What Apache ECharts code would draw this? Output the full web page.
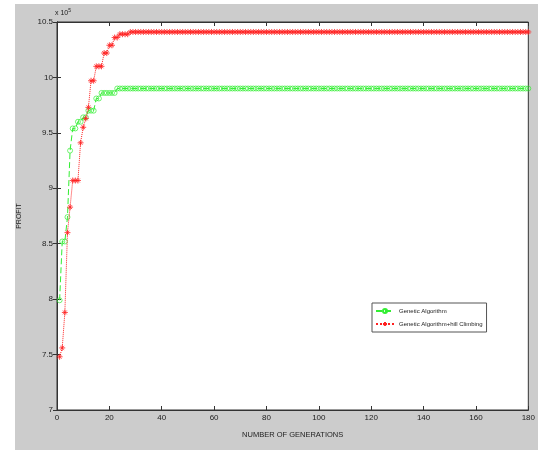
<!DOCTYPE html>
<html>
<head>
<meta charset="utf-8">
<script src="https://cdn.jsdelivr.net/npm/echarts@6/dist/echarts.min.js"></script>
<style>
  html, body { margin: 0; padding: 0; background: #fff; }
  #main { width: 538px; height: 450px; }
</style>
</head>
<body>
<div id="main"></div>
<script>
  // profit per generation (x 10^5), generations 1..180
  var gaProfit = [
    7.99, 8.52, 8.52, 8.74, 9.34, 9.54, 9.54, 9.60, 9.60, 9.64, 9.64, 9.70, 9.70, 9.70, 9.81, 9.81, 9.86, 9.86, 9.86, 9.86,
    9.86, 9.86, 9.9, 9.9, 9.9, 9.9, 9.9, 9.9, 9.9, 9.9, 9.9, 9.9, 9.9, 9.9, 9.9, 9.9, 9.9, 9.9, 9.9, 9.9,
    9.9, 9.9, 9.9, 9.9, 9.9, 9.9, 9.9, 9.9, 9.9, 9.9, 9.9, 9.9, 9.9, 9.9, 9.9, 9.9, 9.9, 9.9, 9.9, 9.9,
    9.9, 9.9, 9.9, 9.9, 9.9, 9.9, 9.9, 9.9, 9.9, 9.9, 9.9, 9.9, 9.9, 9.9, 9.9, 9.9, 9.9, 9.9, 9.9, 9.9,
    9.9, 9.9, 9.9, 9.9, 9.9, 9.9, 9.9, 9.9, 9.9, 9.9, 9.9, 9.9, 9.9, 9.9, 9.9, 9.9, 9.9, 9.9, 9.9, 9.9,
    9.9, 9.9, 9.9, 9.9, 9.9, 9.9, 9.9, 9.9, 9.9, 9.9, 9.9, 9.9, 9.9, 9.9, 9.9, 9.9, 9.9, 9.9, 9.9, 9.9,
    9.9, 9.9, 9.9, 9.9, 9.9, 9.9, 9.9, 9.9, 9.9, 9.9, 9.9, 9.9, 9.9, 9.9, 9.9, 9.9, 9.9, 9.9, 9.9, 9.9,
    9.9, 9.9, 9.9, 9.9, 9.9, 9.9, 9.9, 9.9, 9.9, 9.9, 9.9, 9.9, 9.9, 9.9, 9.9, 9.9, 9.9, 9.9, 9.9, 9.9,
    9.9, 9.9, 9.9, 9.9, 9.9, 9.9, 9.9, 9.9, 9.9, 9.9, 9.9, 9.9, 9.9, 9.9, 9.9, 9.9, 9.9, 9.9, 9.9, 9.9
  ];
  var gaHcProfit = [
    7.48, 7.56, 7.88, 8.60, 8.83, 9.07, 9.07, 9.07, 9.41, 9.55, 9.63, 9.73, 9.97, 9.97, 10.10, 10.10, 10.10, 10.22, 10.22, 10.29,
    10.29, 10.36, 10.36, 10.39, 10.39, 10.39, 10.39, 10.41, 10.41, 10.41, 10.41, 10.41, 10.41, 10.41, 10.41, 10.41, 10.41, 10.41, 10.41, 10.41,
    10.41, 10.41, 10.41, 10.41, 10.41, 10.41, 10.41, 10.41, 10.41, 10.41, 10.41, 10.41, 10.41, 10.41, 10.41, 10.41, 10.41, 10.41, 10.41, 10.41,
    10.41, 10.41, 10.41, 10.41, 10.41, 10.41, 10.41, 10.41, 10.41, 10.41, 10.41, 10.41, 10.41, 10.41, 10.41, 10.41, 10.41, 10.41, 10.41, 10.41,
    10.41, 10.41, 10.41, 10.41, 10.41, 10.41, 10.41, 10.41, 10.41, 10.41, 10.41, 10.41, 10.41, 10.41, 10.41, 10.41, 10.41, 10.41, 10.41, 10.41,
    10.41, 10.41, 10.41, 10.41, 10.41, 10.41, 10.41, 10.41, 10.41, 10.41, 10.41, 10.41, 10.41, 10.41, 10.41, 10.41, 10.41, 10.41, 10.41, 10.41,
    10.41, 10.41, 10.41, 10.41, 10.41, 10.41, 10.41, 10.41, 10.41, 10.41, 10.41, 10.41, 10.41, 10.41, 10.41, 10.41, 10.41, 10.41, 10.41, 10.41,
    10.41, 10.41, 10.41, 10.41, 10.41, 10.41, 10.41, 10.41, 10.41, 10.41, 10.41, 10.41, 10.41, 10.41, 10.41, 10.41, 10.41, 10.41, 10.41, 10.41,
    10.41, 10.41, 10.41, 10.41, 10.41, 10.41, 10.41, 10.41, 10.41, 10.41, 10.41, 10.41, 10.41, 10.41, 10.41, 10.41, 10.41, 10.41, 10.41, 10.41
  ];
  var seriesNames = ['Genetic Algorithm', 'Genetic Algorithm+hill Climbing'];
  var xTicks = [0, 20, 40, 60, 80, 100, 120, 140, 160, 180];
  var yTicks = [7, 7.5, 8, 8.5, 9, 9.5, 10, 10.5];

  function toPairs(arr) {
    return arr.map(function (v, i) { return [i + 1, v]; });
  }

  var font = '"Liberation Sans Narrow", "Liberation Sans", Arial, sans-serif';
  var axisColor = '#333';
  var green = '#33ee33';
  var red = '#ff2020';
  var starPath = 'path://M5,0 L5,10 M0,5 L10,5 M1.8,1.8 L8.2,8.2 M8.2,1.8 L1.8,8.2';

  var myChart = echarts.init(document.getElementById('main'));
  var option = {
    backgroundColor: '#cccccc',
    animation: false,
    textStyle: { fontFamily: font },
    graphic: [
      { type: 'rect', shape: { x: 0, y: 0, width: 538, height: 4 }, style: { fill: '#fff' }, silent: true },
      { type: 'rect', shape: { x: 0, y: 0, width: 15, height: 450 }, style: { fill: '#fff' }, silent: true },
      {
        type: 'text', left: 55, top: 8, silent: true,
        style: {
          text: '{a|x 10}{b|5}',
          rich: {
            a: { fontSize: 7, fill: '#222', fontFamily: font },
            b: { fontSize: 5, fill: '#222', fontFamily: font, verticalAlign: 'top', padding: [0, 0, 6, 0] }
          }
        }
      }
    ],
    grid: { left: 57, right: 8, top: 22, bottom: 40, show: true, backgroundColor: '#fff', borderColor: axisColor, borderWidth: 1 },
    legend: {
      orient: 'vertical',
      left: 372, top: 303,
      backgroundColor: '#fff',
      borderColor: '#555', borderWidth: 1,
      padding: [5, 4, 5, 3],
      itemGap: 7,
      itemWidth: 18, itemHeight: 5,
      textStyle: { fontSize: 6, color: '#222', fontFamily: font },
      data: seriesNames
    },
    xAxis: [
      {
        type: 'value', min: xTicks[0], max: xTicks[xTicks.length - 1], interval: 20,
        name: 'NUMBER OF GENERATIONS', nameLocation: 'middle', nameGap: 21,
        nameTextStyle: { fontSize: 7.5, color: '#222', fontFamily: font },
        axisLine: { lineStyle: { color: axisColor } },
        axisTick: { inside: true, length: 4, lineStyle: { color: axisColor } },
        axisLabel: { fontSize: 8, color: '#222', margin: 4 },
        splitLine: { show: false }
      },
      {
        type: 'value', position: 'top', min: 0, max: 180, interval: 20,
        axisLine: { lineStyle: { color: axisColor } },
        axisTick: { inside: true, length: 4, lineStyle: { color: axisColor } },
        axisLabel: { show: false },
        splitLine: { show: false }
      }
    ],
    yAxis: [
      {
        type: 'value', min: yTicks[0], max: yTicks[yTicks.length - 1], interval: 0.5,
        name: 'PROFIT', nameLocation: 'middle', nameGap: 34, nameRotate: 90,
        nameTextStyle: { fontSize: 7, color: '#222', fontFamily: font },
        axisLine: { show: true, lineStyle: { color: axisColor } },
        axisTick: { show: true, inside: true, length: 4, lineStyle: { color: axisColor } },
        axisLabel: { fontSize: 8, color: '#222', margin: 4 },
        splitLine: { show: false }
      },
      {
        type: 'value', position: 'right', min: 7, max: 10.5, interval: 0.5,
        axisLine: { show: true, lineStyle: { color: axisColor } },
        axisTick: { show: true, inside: true, length: 4, lineStyle: { color: axisColor } },
        axisLabel: { show: false },
        splitLine: { show: false }
      }
    ],
    series: [
      {
        name: seriesNames[0],
        type: 'line',
        data: toPairs(gaProfit),
        symbol: 'circle', symbolSize: 5,
        lineStyle: { color: green, width: 1, type: [6, 3] },
        itemStyle: { color: 'rgba(255,255,255,0)', borderColor: green, borderWidth: 0.7 },
        z: 3
      },
      {
        name: seriesNames[1],
        type: 'line',
        data: toPairs(gaHcProfit),
        symbol: starPath, symbolSize: 6,
        lineStyle: { color: red, width: 1, type: 'dotted' },
        itemStyle: { color: red, borderColor: red, borderWidth: 0.8 },
        z: 4
      }
    ]
  };
  myChart.setOption(option);
</script>
</body>
</html>
